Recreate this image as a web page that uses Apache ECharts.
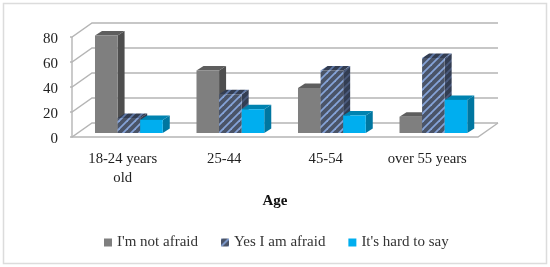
<!DOCTYPE html>
<html>
<head>
<meta charset="utf-8">
<style>html,body{margin:0;padding:0;background:#fff}#c{width:550px;height:267px}</style>
<script src="https://cdn.jsdelivr.net/npm/echarts@6/dist/echarts.min.js"></script>
</head>
<body>
<div id="c"></div>
<script>
const categories = ['18-24 years\nold', '25-44', '45-54', 'over 55 years'];
const notAfraid = [78, 50, 36, 13];
const afraid = [12, 31, 50, 60];
const hardToSay = [10.5, 19, 14, 26.5];
const ticks = [0, 20, 40, 60, 80];
const seriesNames = ["I'm not afraid", 'Yes I am afraid', "It's hard to say"];

const FONT = '"Liberation Serif", serif';
const DX = 20, DY = 14;          // wall depth
const BX = 7, BY = 4.5;          // bar depth
const LIFT = 4;                  // bar base above floor front edge

function stripes(bg, fg) {
  const s = 8, c = document.createElement('canvas');
  c.width = s; c.height = s;
  const g = c.getContext('2d');
  g.fillStyle = bg; g.fillRect(0, 0, s, s);
  g.strokeStyle = fg; g.lineWidth = 1.8;
  [[-s, s, s, -s], [0, s, s, 0], [0, 2 * s, 2 * s, 0]].forEach(l => {
    g.beginPath(); g.moveTo(l[0], l[1]); g.lineTo(l[2], l[3]); g.stroke();
  });
  return { image: c, repeat: 'repeat' };
}
const hatch = stripes('#4a5468', '#85a3d8');
const hatchDark = stripes('#333d52', '#5f79a8');
const hatchSide = stripes('#333d52', '#4a5a7c');

const palettes = [
  { front: '#7f7f7f', top: '#5e5e5e', side: '#4e4e4e' },
  { front: hatch, top: hatchDark, side: hatchSide },
  { front: '#00aeef', top: '#0083b0', side: '#0076a0' }
];

function barRender(idx) {
  return function (params, api) {
    const cat = api.value(0), val = api.value(1);
    const band = api.size([1, 0])[0];
    const w = band * 0.2225;
    const center = api.coord([cat, 0])[0];
    const x = center - band / 2 + band * 0.2266 + idx * w;
    const y0 = api.coord([cat, 0])[1] - LIFT;
    const y1 = api.coord([cat, val])[1] - LIFT;
    const p = palettes[idx];
    return {
      type: 'group',
      children: [
        { type: 'polygon', shape: { points: [[x + w, y1], [x + w + BX, y1 - BY], [x + w + BX, y0 - BY], [x + w, y0]] }, style: { fill: p.side } },
        { type: 'polygon', shape: { points: [[x, y1], [x + BX, y1 - BY], [x + w + BX, y1 - BY], [x + w, y1]] }, style: { fill: p.top } },
        { type: 'rect', shape: { x: x, y: y1, width: w, height: y0 - y1 }, style: { fill: p.front } }
      ]
    };
  };
}

function wallRender(params, api) {
  const t = api.value(0);
  const left = params.coordSys.x, right = left + params.coordSys.width;
  const y = api.coord([0, t])[1];
  const st = { stroke: '#b5b5b5', lineWidth: 1.4, fill: null };
  const pts = [[left - 2, y], [left, y], [left + DX, y - DY], [right + DX, y - DY]];
  const children = [{ type: 'polyline', shape: { points: pts }, style: st }];
  if (t === ticks[0]) {
    const top = api.coord([0, ticks[ticks.length - 1]])[1];
    children.push({ type: 'polyline', shape: { points: [[left, top], [left, y], [right, y], [right + DX, y - DY]] }, style: st });
  }
  return { type: 'group', children };
}

const chart = echarts.init(document.getElementById('c'), null, { renderer: 'canvas' });
const rows = [notAfraid, afraid, hardToSay];

chart.setOption({
  animation: false,
  backgroundColor: '#fff',
  graphic: [{
    type: 'rect', z: -10, silent: true,
    shape: { x: 3.5, y: 3.5, width: 543, height: 260 },
    style: { fill: '#fff', stroke: '#dcdcdc', lineWidth: 1.5 }
  }],
  grid: { left: 72, top: 37, width: 406, height: 100 },
  legend: {
    data: seriesNames,
    left: 99, top: 230,
    itemWidth: 8, itemHeight: 8, itemGap: 23,
    icon: 'rect',
    selectedMode: false,
    textStyle: { fontFamily: FONT, fontSize: 15, color: '#333' }
  },
  xAxis: {
    type: 'category', data: categories,
    name: 'Age', nameLocation: 'middle', nameGap: 57,
    nameTextStyle: { fontFamily: FONT, fontSize: 15, fontWeight: 'bold', color: '#111' },
    axisLine: { show: false }, axisTick: { show: false },
    axisLabel: { fontFamily: FONT, fontSize: 14.7, color: '#222', margin: 13, lineHeight: 19, interval: 0 }
  },
  yAxis: {
    type: 'value', min: 0, max: 80, interval: 20,
    axisLine: { show: false }, axisTick: { show: false }, splitLine: { show: false },
    axisLabel: { fontFamily: FONT, fontSize: 15, color: '#222', margin: 14, verticalAlign: 'top', lineHeight: 5 }
  },
  series: [
    {
      type: 'custom', name: 'walls', silent: true, z: 1,
      renderItem: wallRender,
      encode: { y: 0 },
      data: ticks.map(t => [t])
    }
  ].concat(seriesNames.map((n, i) => ({
    type: 'custom', name: n, z: 2 + i,
    renderItem: barRender(i),
    itemStyle: { color: palettes[i].front },
    encode: { x: 0, y: 1 },
    data: rows[i].map((v, k) => [k, v])
  })))
});
</script>
</body>
</html>
